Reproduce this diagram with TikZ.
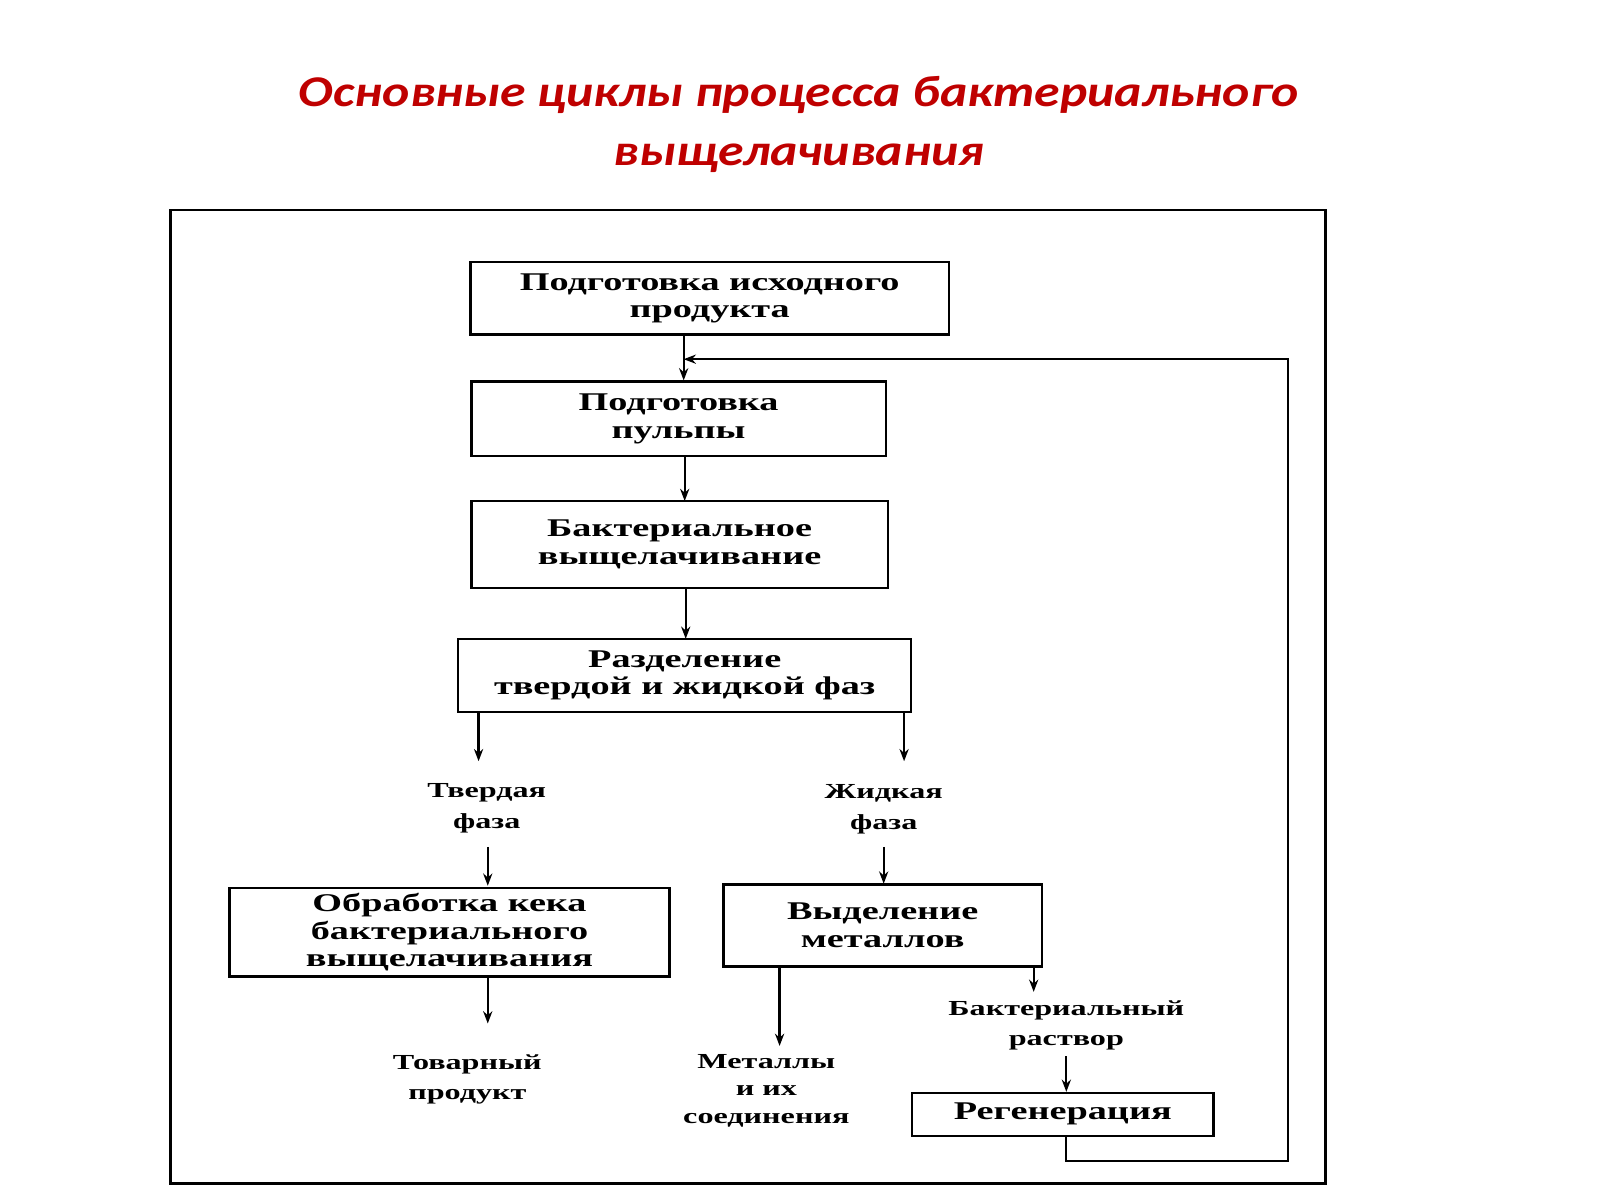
\documentclass[tikz,border=0pt]{standalone}
\usepackage{fontspec}
\setmainfont{Liberation Serif}
\newfontfamily\ttlfont{Carlito}[FakeStretch=1.18]
\newfontfamily\widefont{Liberation Serif}[FakeStretch=1.5]
\usetikzlibrary{arrows.meta}
\begin{document}
\begin{tikzpicture}[x=1pt,y=-1pt,
  box/.style={draw,line width=2.4pt,inner sep=0pt,font=\widefont\fontsize{25}{27}\selectfont\bfseries,align=center},
  lbl/.style={font=\widefont\fontsize{21}{30}\selectfont\bfseries,align=center},
  arr/.style={line width=2.2pt,-{Stealth[length=12pt,width=9pt]}}]
\useasboundingbox (0,0) rectangle (1568,1176);
\node[font=\ttlfont\fontsize{43}{57}\selectfont\bfseries\itshape,text=red!75!black,align=center] (t) at (783,122) {Основные циклы процесса бактериального\\выщелачивания};
\draw[line width=2.4pt] (167,206) rectangle (1299,1160);
\node[box,minimum width=469,minimum height=71] (b1) at (695.5,292.5) {Подготовка исходного\\продукта};
\node[box,minimum width=406,minimum height=73] (b2) at (665,410.5) {Подготовка\\пульпы};
\node[box,minimum width=408,minimum height=85] (b3) at (666,533.5) {Бактериальное\\выщелачивание};
\node[box,minimum width=444,minimum height=72] (b4) at (671,662) {Разделение\\твердой и жидкой фаз};
\node[lbl] (tv) at (477,792) {Твердая\\фаза};
\node[lbl] (zh) at (866,793) {Жидкая\\фаза};
\node[box,minimum width=431,minimum height=87] (b5) at (440.5,913.5) {Обработка кека\\бактериального\\выщелачивания};
\node[box,minimum width=312,minimum height=80] (b6) at (865,907) {Выделение\\металлов};
\node[lbl] (tp) at (458,1058) {Товарный\\продукт};
\node[lbl,font=\widefont\fontsize{21}{27}\selectfont\bfseries] (me) at (751,1069) {Металлы\\и их\\соединения};
\node[lbl] (br) at (1045,1005) {Бактериальный\\раствор};
\node[box,minimum width=295,minimum height=42] (b7) at (1041.5,1092) {Регенерация};
\coordinate (j) at (670,352);
\draw[arr] (b1.south -| j) -- (b2.north -| j);
\draw[arr] (671,447) -- (671,491);
\draw[arr] (672,576) -- (672,626);
\draw[arr] (469,698) -- (469,746);
\draw[arr] (886,698) -- (886,746);
\draw[arr] (478,830) -- (478,868);
\draw[arr] (866,830) -- (866,866);
\draw[arr] (478,957) -- (478,1003);
\draw[arr] (764,947) -- (764,1025);
\draw[arr] (1013,947) -- (1013,972);
\draw[arr] (1045,1035) -- (1045,1070);
\coordinate (c1) at (1045,1138);
\coordinate (c2) at (1262,1138);
\coordinate (c3) at (1262,352);
\draw[arr] (b7.south -| c1) -- (c1) -- (c2) -- (c3) -- (j);
\end{tikzpicture}
\end{document}
